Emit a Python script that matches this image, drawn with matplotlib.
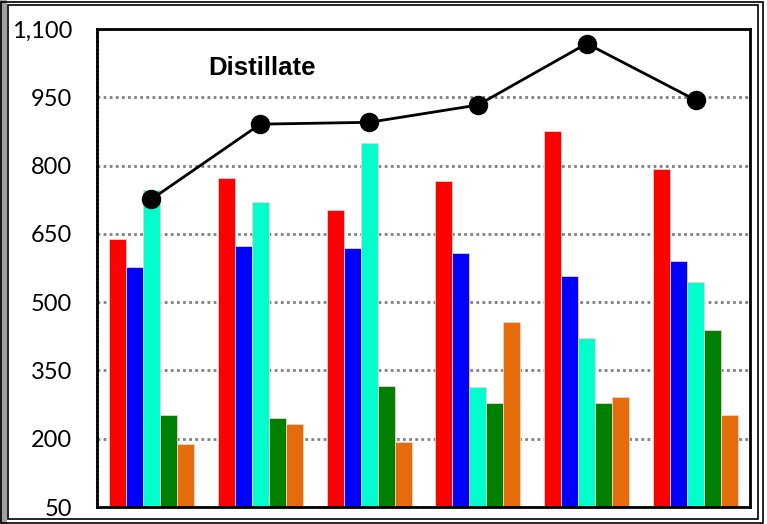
import matplotlib
matplotlib.use("Agg")
import matplotlib.pyplot as plt
from matplotlib.patches import Rectangle
from matplotlib.ticker import FuncFormatter
import numpy as np

groups = ["1", "2", "3", "4", "5", "6"]
red_vals = [639, 772, 702, 766, 876, 792]
blue_vals = [577, 623, 619, 608, 557, 590]
cyan_vals = [746, 720, 849, 314, 421, 544]
green_vals = [252, 245, 316, 278, 278, 439]
orange_vals = [188, 232, 193, 456, 292, 252]
line_vals = [726, 891, 895, 933, 1068, 944]
yticks = [50, 200, 350, 500, 650, 800, 950, 1100]
title = "Distillate"

series = [red_vals, blue_vals, cyan_vals, green_vals, orange_vals]
colors = ["#FF0000", "#0000FF", "#00FFCC", "#008000", "#E46C0A"]

fig = plt.figure(figsize=(7.67, 5.24), dpi=100)
W, H = 767, 524
ax = fig.add_axes([97 / W, 1 - 507 / H, (750 - 97) / W, (507 - 29) / H])

x = np.arange(len(groups))
bw = 0.156
for i, (vals, c) in enumerate(zip(series, colors)):
    ax.bar(x + (i - 2) * bw, np.array(vals) - 50, bw, bottom=50, color=c,
           edgecolor="#F2D0C8", linewidth=0.6, zorder=2)

ax.plot(x, line_vals, color="black", lw=2, marker="o", markersize=13,
        markerfacecolor="black", zorder=4, clip_on=False)

ax.set_xlim(-0.5, len(groups) - 0.5)
ax.set_ylim(50, 1100)
ax.set_yticks(yticks)
ax.yaxis.set_major_formatter(FuncFormatter(lambda v, p: f"{int(v):,}"))
ax.set_xticks([])
ax.tick_params(axis="y", length=0, pad=18, labelsize=17)
for lab in ax.get_yticklabels():
    lab.set_fontfamily("Lato")
ax.grid(axis="y", color="#808080", linestyle=(0, (1, 1.2)), linewidth=2, zorder=1)
ax.set_axisbelow(True)

for s in ["top", "bottom", "right"]:
    ax.spines[s].set_color("black")
    ax.spines[s].set_linewidth(2)
ax.spines["left"].set_color("black")
ax.spines["left"].set_linewidth(2)
ax.spines["left"].set_linestyle((0, (1, 0.5)))

ax.text(0.171, 0.918, title, transform=ax.transAxes, fontsize=18.5,
        fontweight="bold", fontfamily="Liberation Sans", va="center", ha="left")

# figure frame
fig.patches.append(Rectangle((0, 0), 7 / W, 1, transform=fig.transFigure,
                             facecolor="#A0A0A0", edgecolor="none"))
fig.patches.append(Rectangle((8 / W, 5 / H), (758 - 8) / W, (519 - 5) / H,
                             transform=fig.transFigure, facecolor="none",
                             edgecolor="black", linewidth=1.2))
fig.patches.append(Rectangle((1 / W, 1 / H), (763 - 1) / W, (522 - 1) / H,
                             transform=fig.transFigure, facecolor="none",
                             edgecolor="black", linewidth=1.2))

fig.savefig("out.png", dpi=100)
